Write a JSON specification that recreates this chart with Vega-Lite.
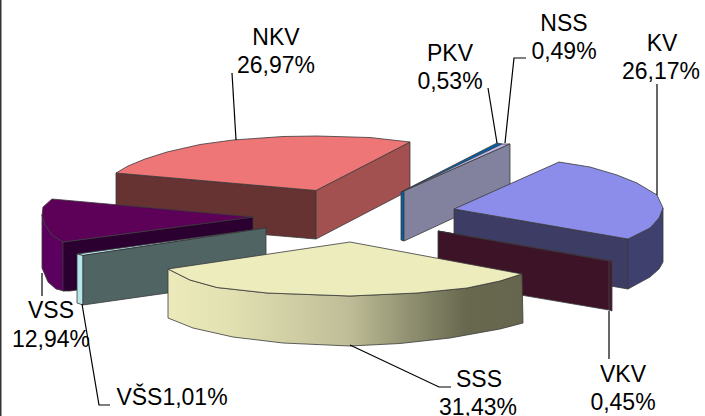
{"$schema":"https://vega.github.io/schema/vega-lite/v6.json","width":705,"height":416,"padding":0,"autosize":{"type":"none"},"background":"white","view":{"stroke":null},
"datasets":{
"faces":[
{"face":"NKV front","i":1,"x":116,"y":173},{"face":"NKV front","i":2,"x":316,"y":190.5},{"face":"NKV front","i":3,"x":316,"y":239},{"face":"NKV front","i":4,"x":116,"y":222},{"face":"NKV front","i":5,"x":116,"y":173},
{"face":"NKV side","i":1,"x":316,"y":190.5},{"face":"NKV side","i":2,"x":410,"y":142},{"face":"NKV side","i":3,"x":410,"y":190},{"face":"NKV side","i":4,"x":316,"y":239},{"face":"NKV side","i":5,"x":316,"y":190.5},
{"face":"NKV top","i":1,"x":116,"y":173},{"face":"NKV top","i":2,"x":128,"y":166},{"face":"NKV top","i":3,"x":145,"y":159},{"face":"NKV top","i":4,"x":167,"y":152},{"face":"NKV top","i":5,"x":200,"y":144.5},{"face":"NKV top","i":6,"x":233,"y":140},{"face":"NKV top","i":7,"x":283,"y":136.5},{"face":"NKV top","i":8,"x":317,"y":136},{"face":"NKV top","i":9,"x":370,"y":137.5},{"face":"NKV top","i":10,"x":410,"y":142},{"face":"NKV top","i":11,"x":316,"y":190.5},{"face":"NKV top","i":12,"x":116,"y":173},
{"face":"VSS outer","i":1,"x":42,"y":215},{"face":"VSS outer","i":2,"x":45,"y":225},{"face":"VSS outer","i":3,"x":52,"y":235},{"face":"VSS outer","i":4,"x":63,"y":242},{"face":"VSS outer","i":5,"x":64,"y":291},{"face":"VSS outer","i":6,"x":56,"y":289},{"face":"VSS outer","i":7,"x":48,"y":282},{"face":"VSS outer","i":8,"x":42,"y":268},{"face":"VSS outer","i":9,"x":42,"y":215},
{"face":"VSS front","i":1,"x":63,"y":242},{"face":"VSS front","i":2,"x":253,"y":217},{"face":"VSS front","i":3,"x":253,"y":266},{"face":"VSS front","i":4,"x":70,"y":291},{"face":"VSS front","i":5,"x":63,"y":291},{"face":"VSS front","i":6,"x":63,"y":242},
{"face":"VSS top","i":1,"x":63,"y":242},{"face":"VSS top","i":2,"x":52,"y":235},{"face":"VSS top","i":3,"x":45,"y":225},{"face":"VSS top","i":4,"x":42,"y":215},{"face":"VSS top","i":5,"x":43,"y":207},{"face":"VSS top","i":6,"x":52,"y":199},{"face":"VSS top","i":7,"x":253,"y":217},{"face":"VSS top","i":8,"x":63,"y":242},
{"face":"VŠS top","i":1,"x":77,"y":254},{"face":"VŠS top","i":2,"x":266,"y":228},{"face":"VŠS top","i":3,"x":83,"y":255.5},{"face":"VŠS top","i":4,"x":77,"y":254},
{"face":"VŠS edge","i":1,"x":77,"y":254},{"face":"VŠS edge","i":2,"x":83,"y":255.5},{"face":"VŠS edge","i":3,"x":83,"y":305},{"face":"VŠS edge","i":4,"x":77,"y":303},{"face":"VŠS edge","i":5,"x":77,"y":254},
{"face":"VŠS front","i":1,"x":83,"y":255.5},{"face":"VŠS front","i":2,"x":266,"y":228},{"face":"VŠS front","i":3,"x":266,"y":279},{"face":"VŠS front","i":4,"x":83,"y":305},{"face":"VŠS front","i":5,"x":83,"y":255.5},
{"face":"PKV edge","i":1,"x":401,"y":192},{"face":"PKV edge","i":2,"x":404,"y":191},{"face":"PKV edge","i":3,"x":404,"y":241},{"face":"PKV edge","i":4,"x":401,"y":240},{"face":"PKV edge","i":5,"x":401,"y":192},
{"face":"PKV top","i":1,"x":401,"y":192},{"face":"PKV top","i":2,"x":497,"y":143},{"face":"PKV top","i":3,"x":502,"y":144},{"face":"PKV top","i":4,"x":404,"y":191},{"face":"PKV top","i":5,"x":401,"y":192},
{"face":"NSS top","i":1,"x":404,"y":191},{"face":"NSS top","i":2,"x":502,"y":144},{"face":"NSS top","i":3,"x":510,"y":144},{"face":"NSS top","i":4,"x":404,"y":191},
{"face":"NSS front","i":1,"x":404,"y":191},{"face":"NSS front","i":2,"x":510,"y":144},{"face":"NSS front","i":3,"x":510,"y":192},{"face":"NSS front","i":4,"x":404,"y":241},{"face":"NSS front","i":5,"x":404,"y":191},
{"face":"KV front","i":1,"x":454,"y":209},{"face":"KV front","i":2,"x":628,"y":239},{"face":"KV front","i":3,"x":628,"y":289},{"face":"KV front","i":4,"x":454,"y":259},{"face":"KV front","i":5,"x":454,"y":209},
{"face":"KV outer","i":1,"x":628,"y":239},{"face":"KV outer","i":2,"x":650,"y":228},{"face":"KV outer","i":3,"x":659,"y":218},{"face":"KV outer","i":4,"x":663,"y":208},{"face":"KV outer","i":5,"x":663,"y":262},{"face":"KV outer","i":6,"x":659,"y":269},{"face":"KV outer","i":7,"x":650,"y":277},{"face":"KV outer","i":8,"x":628,"y":289},{"face":"KV outer","i":9,"x":628,"y":239},
{"face":"KV top","i":1,"x":454,"y":209},{"face":"KV top","i":2,"x":559,"y":162},{"face":"KV top","i":3,"x":590,"y":167},{"face":"KV top","i":4,"x":617,"y":175},{"face":"KV top","i":5,"x":637,"y":183},{"face":"KV top","i":6,"x":657,"y":195},{"face":"KV top","i":7,"x":663,"y":208},{"face":"KV top","i":8,"x":659,"y":218},{"face":"KV top","i":9,"x":650,"y":228},{"face":"KV top","i":10,"x":628,"y":239},{"face":"KV top","i":11,"x":454,"y":209},
{"face":"VKV top","i":1,"x":438,"y":231},{"face":"VKV top","i":2,"x":612,"y":261},{"face":"VKV top","i":3,"x":610,"y":262},{"face":"VKV top","i":4,"x":438,"y":231},
{"face":"VKV front","i":1,"x":438,"y":231},{"face":"VKV front","i":2,"x":609,"y":261},{"face":"VKV front","i":3,"x":609,"y":310},{"face":"VKV front","i":4,"x":438,"y":281},{"face":"VKV front","i":5,"x":438,"y":231},
{"face":"VKV edge","i":1,"x":609,"y":261},{"face":"VKV edge","i":2,"x":612,"y":261},{"face":"VKV edge","i":3,"x":612,"y":311},{"face":"VKV edge","i":4,"x":609,"y":310},{"face":"VKV edge","i":5,"x":609,"y":261}
],
"sssOuter":[
{"i":1,"x":168,"y":269},{"i":2,"x":190,"y":280},{"i":3,"x":217,"y":287.5},{"i":4,"x":267,"y":293},{"i":5,"x":350,"y":296},{"i":6,"x":417,"y":293},{"i":7,"x":467,"y":288},{"i":8,"x":500,"y":281},{"i":9,"x":522,"y":274},{"i":10,"x":523,"y":323},{"i":11,"x":500,"y":329},{"i":12,"x":450,"y":338},{"i":13,"x":400,"y":343.5},{"i":14,"x":350,"y":346},{"i":15,"x":283,"y":343},{"i":16,"x":233,"y":337},{"i":17,"x":193,"y":328},{"i":18,"x":168,"y":318},{"i":19,"x":168,"y":269}
],
"sssTop":[
{"i":1,"x":168,"y":269},{"i":2,"x":350,"y":242},{"i":3,"x":522,"y":274},{"i":4,"x":500,"y":281},{"i":5,"x":467,"y":288},{"i":6,"x":417,"y":293},{"i":7,"x":350,"y":296},{"i":8,"x":267,"y":293},{"i":9,"x":217,"y":287.5},{"i":10,"x":190,"y":280},{"i":11,"x":168,"y":269}
],
"leaders":[
{"label":"NKV","i":1,"x":232,"y":73},{"label":"NKV","i":2,"x":236,"y":140},
{"label":"PKV","i":1,"x":488,"y":88},{"label":"PKV","i":2,"x":497,"y":143},
{"label":"NSS","i":1,"x":526,"y":58},{"label":"NSS","i":2,"x":514,"y":58},{"label":"NSS","i":3,"x":505,"y":143},
{"label":"KV","i":1,"x":657,"y":84},{"label":"KV","i":2,"x":657,"y":195},
{"label":"VKV","i":1,"x":609,"y":311},{"label":"VKV","i":2,"x":609,"y":359},
{"label":"SSS","i":1,"x":350,"y":345},{"label":"SSS","i":2,"x":439,"y":387},{"label":"SSS","i":3,"x":451,"y":387},
{"label":"VŠS","i":1,"x":82,"y":304},{"label":"VŠS","i":2,"x":99,"y":405},{"label":"VŠS","i":3,"x":110,"y":405},
{"label":"VSS","i":1,"x":42,"y":273},{"label":"VSS","i":2,"x":42,"y":296},
{"label":"frame","i":1,"x":0.8,"y":416},{"label":"frame","i":2,"x":0.8,"y":0}
],
"labels":[
{"text":"NKV","x":276,"y":45},{"text":"26,97%","x":276,"y":73},
{"text":"PKV","x":450,"y":61},{"text":"0,53%","x":450,"y":89},
{"text":"NSS","x":564,"y":31},{"text":"0,49%","x":564,"y":59},
{"text":"KV","x":662,"y":51},{"text":"26,17%","x":661,"y":79},
{"text":"VSS","x":51,"y":318},{"text":"12,94%","x":51,"y":347},
{"text":"VŠS1,01%","x":172,"y":405},
{"text":"SSS","x":479,"y":387},{"text":"31,43%","x":478,"y":415},
{"text":"VKV","x":623,"y":382},{"text":"0,45%","x":623,"y":410}
]},
"encoding":{
"x":{"field":"x","type":"quantitative","scale":{"domain":[0,705],"nice":false,"zero":false},"axis":null},
"y":{"field":"y","type":"quantitative","scale":{"domain":[416,0],"nice":false,"zero":false},"axis":null}},
"layer":[
{"data":{"name":"faces"},"mark":{"type":"line","stroke":"#3a3a3a","strokeWidth":0.8,"strokeJoin":"round"},
"encoding":{"order":{"field":"i","type":"quantitative"},
"fill":{"field":"face","type":"nominal","legend":null,"scale":{
"domain":["NKV front","NKV side","NKV top","VSS outer","VSS front","VSS top","VŠS top","VŠS edge","VŠS front","PKV edge","PKV top","NSS top","NSS front","KV front","KV outer","KV top","VKV top","VKV front","VKV edge"],
"range":["#663232","#a25050","#ef7676","#5c0060","#2b0030","#5c0058","#b5e6e8","#b5e6e8","#506464","#0060a8","#0060a8","#b8b8e8","#82829f","#3c3c64","#40406f","#8c8ceb","#8a1a5a","#3d1328","#4a1632"]}}}},
{"data":{"name":"sssOuter"},"mark":{"type":"line","stroke":"#3a3a3a","strokeWidth":0.8,"strokeJoin":"round",
"fill":{"gradient":"linear","x1":0,"y1":0,"x2":1,"y2":0,"stops":[{"offset":0,"color":"#eceabb"},{"offset":0.17,"color":"#e2e1b2"},{"offset":0.51,"color":"#bfbd97"},{"offset":0.7,"color":"#8b8b6d"},{"offset":0.84,"color":"#68684f"},{"offset":1,"color":"#66664e"}]}},
"encoding":{"order":{"field":"i","type":"quantitative"}}},
{"data":{"name":"sssTop"},"mark":{"type":"line","stroke":"#3a3a3a","strokeWidth":0.8,"strokeJoin":"round","fill":"#ececbd"},
"encoding":{"order":{"field":"i","type":"quantitative"}}},
{"data":{"name":"leaders"},"mark":{"type":"line","stroke":"#000000","strokeWidth":1.2},
"encoding":{"detail":{"field":"label","type":"nominal"},"order":{"field":"i","type":"quantitative"}}},
{"data":{"name":"labels"},"mark":{"type":"text","font":"Liberation Sans","fontSize":23,"color":"#000000","align":"center","baseline":"alphabetic"},
"encoding":{"text":{"field":"text","type":"nominal"}}}
]}
